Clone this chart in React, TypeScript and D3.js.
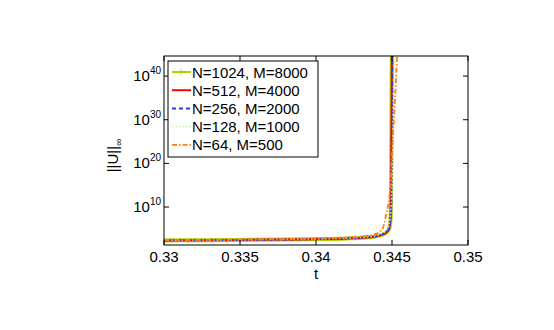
import React, { useEffect, useRef } from 'react';
import * as d3 from 'd3';

// t values and log10 ||U|| for each run
const tBase = [0.33, 0.332, 0.335, 0.338, 0.34, 0.342, 0.343, 0.3438, 0.3443, 0.3446, 0.3448, 0.3449, 0.34495, 0.345];
const log1024 = [2.35, 2.38, 2.45, 2.55, 2.65, 2.8, 2.95, 3.2, 3.6, 4.1, 4.9, 7, 20, 50];
const log512 = [2.35, 2.38, 2.45, 2.55, 2.65, 2.8, 2.95, 3.2, 3.6, 4.1, 4.9, 7, 20, 50];
const t256 = [0.33, 0.332, 0.335, 0.338, 0.34, 0.342, 0.343, 0.3438, 0.3443, 0.3446, 0.3448, 0.34495, 0.3450, 0.34505];
const log256 = [2.38, 2.4, 2.47, 2.57, 2.68, 2.83, 3.0, 3.25, 3.7, 4.2, 5.2, 10, 30, 50];
const t128 = [0.33, 0.332, 0.335, 0.338, 0.34, 0.342, 0.343, 0.3438, 0.3443, 0.3446, 0.3448, 0.345, 0.3451, 0.3452];
const log128 = [2.4, 2.42, 2.5, 2.6, 2.7, 2.87, 3.05, 3.35, 3.9, 4.6, 5.8, 14, 35, 50];
const t64 = [0.33, 0.332, 0.335, 0.338, 0.34, 0.342, 0.343, 0.3438, 0.3442, 0.3444, 0.3446, 0.3449, 0.345, 0.3452, 0.3454];
const log64 = [2.45, 2.48, 2.56, 2.68, 2.8, 3.0, 3.25, 3.7, 4.4, 5.2, 8, 15, 22, 35, 50];

const legendLabels = ['N=1024, M=8000', 'N=512, M=4000', 'N=256, M=2000', 'N=128, M=1000', 'N=64, M=500'];
const xTicks = [0.33, 0.335, 0.34, 0.345, 0.35];
const yTickExps = [10, 20, 30, 40];

export default function App() {
  const ref = useRef<SVGSVGElement>(null);

  useEffect(() => {
    const svg = d3.select(ref.current);
    svg.selectAll('*').remove();
    const W = 554, H = 330;
    const m = { left: 164, right: 468, top: 56, bottom: 245 };
    const font = 'Liberation Sans, Arial, sans-serif';
    const fs = 15;

    const x = d3.scaleLinear().domain([0.33, 0.35]).range([m.left, m.right]);
    const y = d3.scaleLinear().domain([1.3, 44.6]).range([m.bottom, m.top]);

    svg.attr('width', W).attr('height', H).style('font-family', font);
    svg.append('rect').attr('width', W).attr('height', H).attr('fill', '#fff');

    svg.append('defs').append('clipPath').attr('id', 'plotclip')
      .append('rect').attr('x', m.left).attr('y', m.top)
      .attr('width', m.right - m.left).attr('height', m.bottom - m.top);

    const series = [
      { t: tBase, v: log1024, color: '#a8d400', width: 4, dash: null, marker: true },
      { t: tBase, v: log512, color: '#ff0000', width: 2, dash: null, marker: false },
      { t: t256, v: log256, color: '#1f3fff', width: 2, dash: '4,3', marker: false },
      { t: t128, v: log128, color: '#c8f5a0', width: 1.5, dash: '1.5,2', marker: false },
      { t: t64, v: log64, color: '#ff7f1a', width: 1.8, dash: '5,2,1.5,2', marker: false },
    ];

    const line = d3.line<[number, number]>().x(d => x(d[0])).y(d => y(d[1])).curve(d3.curveMonotoneX);
    const g = svg.append('g').attr('clip-path', 'url(#plotclip)');
    series.forEach(s => {
      const pts = s.t.map((t, i) => [t, s.v[i]] as [number, number]);
      g.append('path').attr('d', line(pts)).attr('fill', 'none')
        .attr('stroke', s.color).attr('stroke-width', s.width)
        .attr('stroke-dasharray', s.dash).attr('stroke-linejoin', 'round');
    });

    // axes box
    const ax = svg.append('g').attr('stroke', '#000').attr('stroke-width', 1).attr('fill', 'none');
    ax.append('rect').attr('x', m.left).attr('y', m.top)
      .attr('width', m.right - m.left).attr('height', m.bottom - m.top);
    const tl = 5;
    xTicks.forEach(t => {
      ax.append('line').attr('x1', x(t)).attr('x2', x(t)).attr('y1', m.bottom).attr('y2', m.bottom - tl);
      ax.append('line').attr('x1', x(t)).attr('x2', x(t)).attr('y1', m.top).attr('y2', m.top + tl);
      svg.append('text').attr('x', x(t)).attr('y', m.bottom + 16.5).attr('text-anchor', 'middle')
        .attr('font-size', fs).text(String(t));
    });
    yTickExps.forEach(e => {
      ax.append('line').attr('x1', m.left).attr('x2', m.left + tl).attr('y1', y(e)).attr('y2', y(e));
      ax.append('line').attr('x1', m.right).attr('x2', m.right - tl).attr('y1', y(e)).attr('y2', y(e));
      const tx = svg.append('text').attr('x', m.left - 3).attr('y', y(e) + 5).attr('text-anchor', 'end')
        .attr('font-size', fs);
      tx.append('tspan').text('10');
      tx.append('tspan').attr('dy', -7).attr('font-size', 10).text(String(e));
    });

    svg.append('text').attr('x', x(0.34)).attr('y', m.bottom + 34).attr('text-anchor', 'middle')
      .attr('font-size', fs).text('t');

    const yl = svg.append('text').attr('transform', `translate(118,${(m.top + m.bottom) / 2 + 5}) rotate(-90)`)
      .attr('text-anchor', 'middle').attr('font-size', fs);
    yl.append('tspan').text('||U||');
    yl.append('tspan').attr('dy', 4).attr('font-size', 10).text('∞');

    // legend
    const lg = svg.append('g');
    lg.append('rect').attr('x', 168).attr('y', 61).attr('width', 150).attr('height', 96)
      .attr('fill', '#fff').attr('stroke', '#000').attr('stroke-width', 1);
    series.forEach((s, i) => {
      const ly = 72 + i * 18.2;
      lg.append('line').attr('x1', 172).attr('x2', 191).attr('y1', ly).attr('y2', ly)
        .attr('stroke', s.color).attr('stroke-width', s.marker ? 2 : s.width)
        .attr('stroke-dasharray', s.dash);
      if (s.marker) {
        lg.append('path').attr('d', `M178.5,${ly}h5M181,${ly - 2.5}v5`).attr('stroke', s.color).attr('stroke-width', 1.2);
      }
      lg.append('text').attr('x', 192).attr('y', ly + 5.5).attr('font-size', fs).text(legendLabels[i]);
    });
  }, []);

  return <svg ref={ref} style={{ display: 'block', margin: -8 }} />;
}
